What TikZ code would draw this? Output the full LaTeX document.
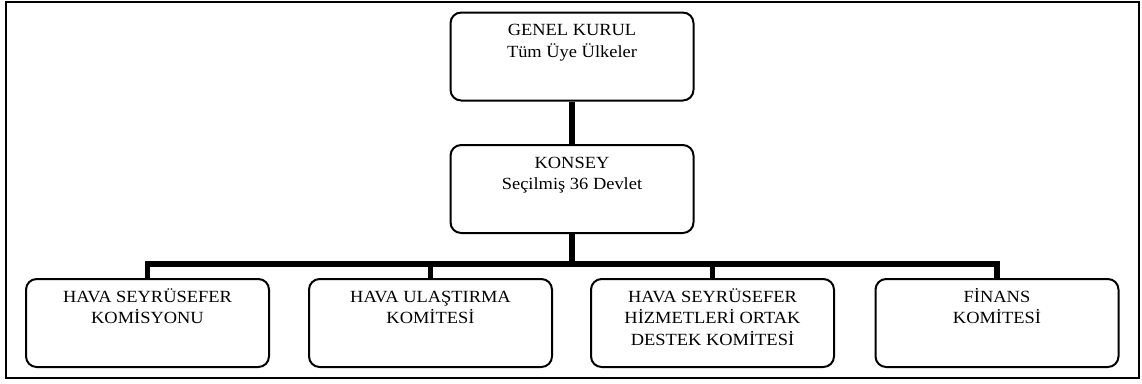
\documentclass[tikz,border=0pt]{standalone}
\usepackage{fontspec}
\setmainfont{Liberation Serif}[FakeStretch=1.08]
\newcommand{\firstline}{\rule{0pt}{11.5pt}}
\begin{document}
\begin{tikzpicture}[x=0.75pt,y=-0.75pt,
  orgbox/.style={draw=black,line width=1.5pt,rounded corners=8pt,
    minimum width=243*0.75pt,minimum height=88*0.75pt,inner sep=0pt},
  boxtext/.style={anchor=north,align=center,inner sep=0pt,
    font=\fontsize{12.8}{16.1}\selectfont},
  link/.style={line width=4.2pt}]
\useasboundingbox (0,0) rectangle (1142,383);
% outer frame
\draw[line width=1.5pt] (6,1.5) rectangle (1139,377.5);

% boxes
\node[orgbox] (gk) at (572,56.5) {};
\node[orgbox] (ks) at (572,189) {};
\node[orgbox] (b1) at (147.5,323) {};
\node[orgbox] (b2) at (430.5,323) {};
\node[orgbox] (b3) at (712.5,323) {};
\node[orgbox] (b4) at (997,323) {};

% box labels, set from the top of each box (first baseline 18pt below it)
\node[boxtext] (gkt) at ([yshift=-6.5pt]gk.north) {\firstline GENEL KURUL\\Tüm Üye Ülkeler};
\node[boxtext] (kst) at ([yshift=-6.5pt]ks.north) {\firstline KONSEY\\Seçilmiş 36 Devlet};
\node[boxtext] (b1t) at ([yshift=-6.5pt]b1.north) {\firstline HAVA SEYRÜSEFER\\KOMİSYONU};
\node[boxtext] (b2t) at ([yshift=-6.5pt]b2.north) {\firstline HAVA ULAŞTIRMA\\KOMİTESİ};
\node[boxtext] (b3t) at ([yshift=-6.5pt]b3.north) {\firstline HAVA SEYRÜSEFER\\HİZMETLERİ ORTAK\\DESTEK KOMİTESİ};
\node[boxtext] (b4t) at ([yshift=-6.5pt]b4.north) {\firstline FİNANS\\KOMİTESİ};

% connectors
\coordinate (bus) at (572,264);
\draw[link] (gk.south) -- (ks.north);
\draw[link] (ks.south) -- (bus);
\draw[link,line cap=rect] (b1.north |- bus) -- (b4.north |- bus);
\foreach \b in {b1,b2,b3,b4}
  \draw[link] (\b.north |- bus) -- (\b.north);
\end{tikzpicture}
\end{document}
